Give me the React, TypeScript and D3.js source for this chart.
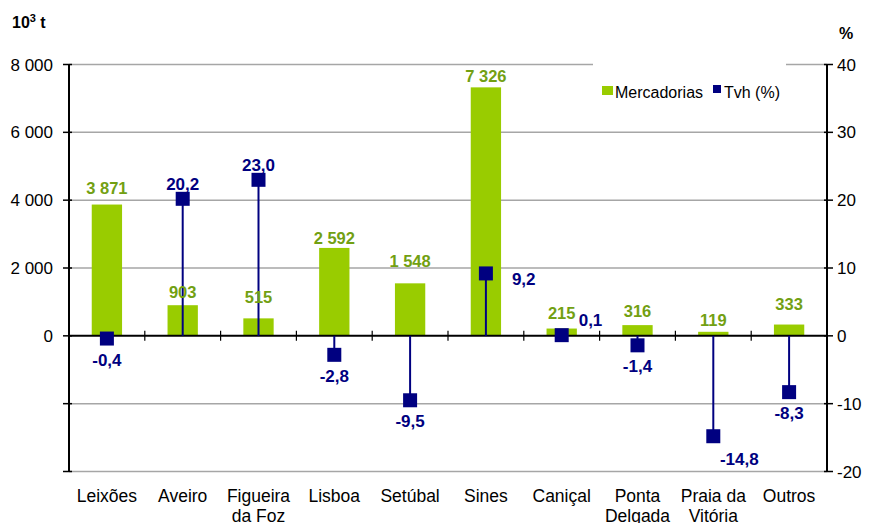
import React from 'react';
import * as d3 from 'd3';

const categories: string[][] = [
  ['Leixões'], ['Aveiro'], ['Figueira', 'da Foz'], ['Lisboa'], ['Setúbal'],
  ['Sines'], ['Caniçal'], ['Ponta', 'Delgada'], ['Praia da', 'Vitória'], ['Outros'],
];
const mercadorias = [3871, 903, 515, 2592, 1548, 7326, 215, 316, 119, 333];
const tvh = [-0.4, 20.2, 23.0, -2.8, -9.5, 9.2, 0.1, -1.4, -14.8, -8.3];
const tvhPlacement = ['below', 'above', 'above', 'below', 'below', 'right', 'aboveRight', 'below', 'belowRight', 'below'];
const barLabelGap = [11, 7, 15, 4, 16, 5, 10, 8, 6, 15];
const leftTicks = [8000, 6000, 4000, 2000, 0, -2000, -4000];
const rightTicks = [40, 30, 20, 10, 0, -10, -20];
const seriesNames = ['Mercadorias', 'Tvh (%)'];

const locale = d3.formatLocale({ decimal: ',', thousands: ' ', grouping: [3], currency: ['', ''], minus: '-' });
const fmtInt = locale.format(',d');
const fmtPct = locale.format('.1f');

const W = 869, H = 523;
const left = 69, right = 827, top = 64.5, bottom = 471.5;
const GREEN = '#99CC00';
const GREEN_TXT = '#72A012';
const NAVY = '#000080';
const FONT = '"Liberation Sans", Arial, sans-serif';

export default function App() {
  const idx = categories.map((_, i) => i);
  const x = d3.scaleBand<number>().domain(idx).range([left, right]).padding(0);
  const yL = d3.scaleLinear().domain([-4000, 8000]).range([bottom, top]);
  const yR = d3.scaleLinear().domain([-20, 40]).range([bottom, top]);
  const bw = x.bandwidth() * 0.4;
  const cx = (i: number) => (x(i) as number) + x.bandwidth() / 2;
  const y0 = yL(0);

  return (
    <svg width={W} height={H} style={{ position: 'absolute', left: 0, top: 0, fontFamily: FONT }}>
      <rect width={W} height={H} fill="#fff" />
      {/* gridlines */}
      {leftTicks.filter(t => t !== 0).map(t => (
        <line key={'g' + t} x1={left} x2={right} y1={yL(t)} y2={yL(t)} stroke="#a6a6a6" strokeWidth={1.5} />
      ))}
      {/* legend background */}
      <rect x={593} y={58} width={193} height={52} fill="#fff" />
      {/* bars */}
      {mercadorias.map((v, i) => (
        <rect key={'b' + i} x={cx(i) - bw / 2} y={yL(Math.max(0, v))} width={bw}
          height={Math.abs(yL(v) - y0)} fill={GREEN} />
      ))}
      {/* axes */}
      <line x1={left} x2={left} y1={top} y2={bottom} stroke="#000" strokeWidth={2} />
      <line x1={right} x2={right} y1={top} y2={bottom} stroke="#000" strokeWidth={2} />
      <line x1={left} x2={right} y1={y0} y2={y0} stroke="#000" strokeWidth={2} />
      {leftTicks.map(t => (
        <line key={'lt' + t} x1={left - 6} x2={left + 3} y1={yL(t)} y2={yL(t)} stroke="#000" strokeWidth={1.5} />
      ))}
      {rightTicks.map(t => (
        <line key={'rt' + t} x1={right - 3} x2={right + 6} y1={yR(t)} y2={yR(t)} stroke="#000" strokeWidth={1.5} />
      ))}
      {idx.slice(1).map(i => (
        <line key={'xt' + i} x1={x(i)} x2={x(i)} y1={y0 - 5} y2={y0 + 5} stroke="#000" strokeWidth={1.2} />
      ))}
      {/* left tick labels */}
      {leftTicks.filter(t => t >= 0).map(t => (
        <text key={'ll' + t} x={53} y={yL(t) + 6} textAnchor="end" fontSize={17} fill="#000">{fmtInt(t)}</text>
      ))}
      {rightTicks.map(t => (
        <text key={'rl' + t} x={837} y={yR(t) + 6} textAnchor="start" fontSize={17} fill="#000">{fmtInt(t)}</text>
      ))}
      {/* axis titles */}
      <text x={12} y={28} fontSize={16} fontWeight="bold" fill="#000">
        10<tspan dy={-6} fontSize={11}>3</tspan><tspan dy={6}> t</tspan>
      </text>
      <text x={839} y={39} fontSize={16} fontWeight="bold" fill="#000">%</text>
      {/* drop lines */}
      {tvh.map((v, i) => (
        <line key={'d' + i} x1={cx(i)} x2={cx(i)} y1={yR(0)} y2={yR(v)} stroke={NAVY} strokeWidth={2} />
      ))}
      {/* markers */}
      {tvh.map((v, i) => (
        <rect key={'m' + i} x={cx(i) - 7} y={yR(v) - 7} width={14} height={14} fill={NAVY} />
      ))}
      {/* bar labels */}
      {mercadorias.map((v, i) => (
        <text key={'bl' + i} x={cx(i)} y={yL(v) - barLabelGap[i]} textAnchor="middle" fontSize={16.5}
          fontWeight="bold" fill={GREEN_TXT}>{fmtInt(v)}</text>
      ))}
      {/* tvh labels */}
      {tvh.map((v, i) => {
        const px = cx(i), py = yR(v);
        const p = tvhPlacement[i];
        let tx = px, ty = py, anchor: 'middle' | 'start' = 'middle';
        if (p === 'below') { ty = py + 27; }
        else if (p === 'above') { ty = py - 9; }
        else if (p === 'right') { tx = px + 26; ty = py + 12; anchor = 'start'; }
        else if (p === 'aboveRight') { tx = px + 17; ty = py - 9; anchor = 'start'; }
        else if (p === 'belowRight') { tx = px + 26; ty = py + 29; }
        return (
          <text key={'tl' + i} x={tx} y={ty} textAnchor={anchor} fontSize={17} fontWeight="bold" fill={NAVY}>
            {fmtPct(v)}
          </text>
        );
      })}
      {/* category labels */}
      {categories.map((lines, i) => (
        <text key={'c' + i} x={cx(i)} y={502} textAnchor="middle" fontSize={17.5} fill="#000">
          {lines.map((l, j) => (
            <tspan key={j} x={cx(i)} dy={j === 0 ? 0 : 20}>{l}</tspan>
          ))}
        </text>
      ))}
      {/* legend */}
      <rect x={602} y={86} width={11} height={9} fill={GREEN} />
      <text x={615} y={98} fontSize={16} fill="#000">{seriesNames[0]}</text>
      <rect x={713} y={85} width={8} height={8} fill={NAVY} />
      <text x={724} y={98} fontSize={16} fill="#000">{seriesNames[1]}</text>
    </svg>
  );
}
